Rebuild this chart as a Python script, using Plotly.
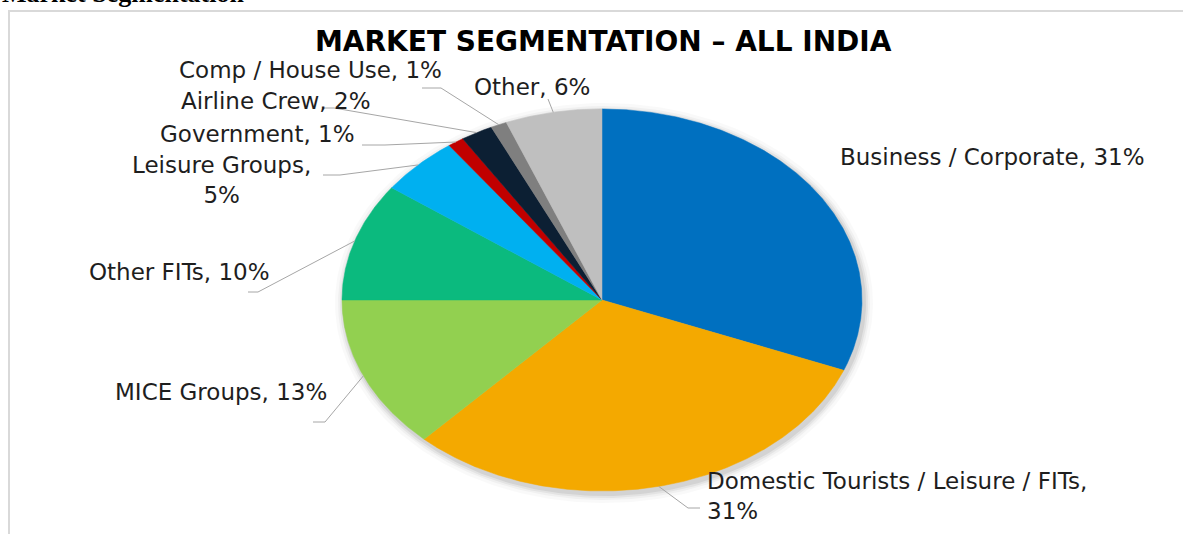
import numpy as np
import plotly.graph_objects as go

# ---- data ----
categories = ["Business / Corporate", "Domestic Tourists / Leisure / FITs", "MICE Groups",
              "Other FITs", "Leisure Groups", "Government", "Airline Crew",
              "Comp / House Use", "Other"]
values = [31, 31, 13, 10, 5, 1, 2, 1, 6]
colors = ["#0070C0", "#F4A900", "#92D050", "#0BBA7E", "#00B0F0", "#C00000",
          "#0C1F33", "#7F7F7F", "#BFBFBF"]
label_texts = ["Business / Corporate, 31%", "Domestic Tourists / Leisure / FITs,<br>31%",
               "MICE Groups, 13%", "Other FITs, 10%", "Leisure Groups,<br>5%",
               "Government, 1%", "Airline Crew, 2%", "Comp / House Use, 1%", "Other, 6%"]

# ---- layout (pixel space) ----
W, H = 1183, 534
CX, CY, RX, RY = 602, 300, 260, 191
# label anchor: (x, y, xanchor, align)
label_pos = [(838, 157, "left", "left"), (705, 496, "left", "left"), (329, 392, "right", "right"),
             (272, 272, "right", "right"), (221, 180, "center", "center"), (357, 134, "right", "right"),
             (372, 101, "right", "right"), (444, 70, "right", "right"), (532, 87, "center", "center")]
# leader path points after the pie-edge point (None = no leader)
leader_pts = [None, [(688, 508), (700, 508)], [(325, 422), (313, 422)], [(258, 292), (248, 292)],
              [(340, 175), (323, 175)], [(385, 145), (362, 145)], [(334, 108), (322, 108)],
              [(441, 88), (422, 88)], [(548, 99)]]

FONT = "DejaVu Sans"
TXT = "#1E1E1E"

fig = go.Figure()

def ell(t, sx=1.0, sy=1.0, dx=0, dy=0):
    return CX + dx + RX * sx * np.sin(t), CY + dy - RY * sy * np.cos(t)

# soft shadow
full = np.linspace(0, 2 * np.pi, 361)
for k, a in [(9, 0.025), (6, 0.035), (4, 0.05), (2, 0.07)]:
    xs, ys = ell(full, (RX + k) / RX, (RY + k) / RY, 2, 3)
    fig.add_trace(go.Scatter(x=xs, y=ys, mode="lines", fill="toself",
                             fillcolor=f"rgba(0,0,0,{a})", line=dict(width=0),
                             hoverinfo="skip", showlegend=False))

total = sum(values)
cum = np.concatenate([[0], np.cumsum(values)]) / total
for i, (cat, v, c) in enumerate(zip(categories, values, colors)):
    a0, a1 = cum[i] * 2 * np.pi, cum[i + 1] * 2 * np.pi
    t = np.linspace(a0, a1, max(4, int(200 * (a1 - a0))))
    xs, ys = ell(t)
    fig.add_trace(go.Scatter(x=np.r_[CX, xs, CX], y=np.r_[CY, ys, CY], mode="lines",
                             fill="toself", fillcolor=c, line=dict(color=c, width=0.5),
                             name=cat, hoverinfo="name", showlegend=False))

# leader lines and labels
for i in range(len(values)):
    mid = (cum[i] + cum[i + 1]) * np.pi
    ex, ey = ell(mid)
    if leader_pts[i] is not None:
        px = [ex] + [p[0] for p in leader_pts[i]]
        py = [ey] + [p[1] for p in leader_pts[i]]
        fig.add_trace(go.Scatter(x=px, y=py, mode="lines", line=dict(color="#A6A6A6", width=1),
                                 hoverinfo="skip", showlegend=False))
    lx, ly, xa, al = label_pos[i]
    fig.add_annotation(x=lx, y=ly, text=label_texts[i], showarrow=False, xanchor=xa,
                       yanchor="middle", align=al, font=dict(family=FONT, size=23, color=TXT))

# title
fig.add_annotation(x=603, y=41, text="<b>MARKET SEGMENTATION – ALL INDIA</b>", showarrow=False,
                   xanchor="center", yanchor="middle", font=dict(family=FONT, size=28, color="#000000"))
# cut-off heading above the chart (paper-referenced so it is not hidden outside the axis range)
fig.add_annotation(x=0, y=1 - 10 / H, xref="paper", yref="paper", text="<b>Market Segmentation</b>",
                   showarrow=False, xanchor="left", yanchor="bottom",
                   font=dict(family="Liberation Serif", size=26, color="#000000"))

# chart border
fig.add_shape(type="rect", x0=9, y0=11, x1=W + 20, y1=H + 20, line=dict(color="#D9D9D9", width=2),
              layer="below")

fig.update_layout(width=W, height=H, margin=dict(l=0, r=0, t=0, b=0),
                  paper_bgcolor="white", plot_bgcolor="white",
                  xaxis=dict(range=[0, W], visible=False, fixedrange=True),
                  yaxis=dict(range=[H, 0], visible=False, fixedrange=True),
                  showlegend=False)

fig.write_html("out.html", config={"displayModeBar": False},
               post_script="document.body.style.margin='0';")
